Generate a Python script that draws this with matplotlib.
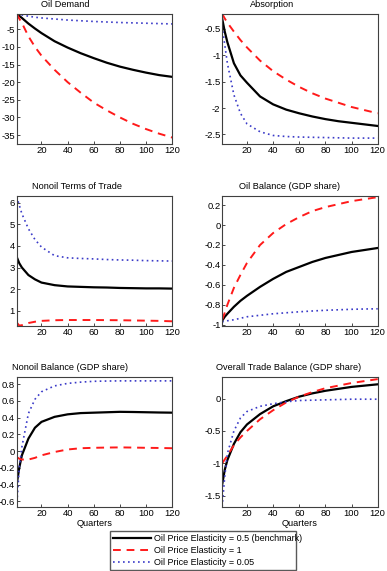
import matplotlib
matplotlib.use("Agg")
import matplotlib.pyplot as plt

plt.rcParams['font.family'] = ['Liberation Sans', 'DejaVu Sans']
plt.rcParams['font.size'] = 6.5
plt.rcParams['axes.unicode_minus'] = False

q = [1, 3, 5, 10, 15, 20, 30, 40, 50, 60, 70, 80, 90, 100, 110, 120]

# Oil Demand
od_bench = [-0.6, -1.2, -1.8, -3.4, -4.8, -6.1, -8.4, -10.2, -11.8, -13.2, -14.5, -15.6, -16.5, -17.3, -18.0, -18.5]
od_one = [-0.6, -2.0, -3.2, -7.0, -10.0, -12.5, -16.5, -20.0, -23.0, -25.8, -28.0, -30.0, -31.8, -33.3, -34.6, -35.7]
od_low = [-0.6, -0.8, -0.95, -1.3, -1.6, -1.8, -2.1, -2.4, -2.6, -2.8, -2.95, -3.1, -3.2, -3.3, -3.4, -3.5]

# Absorption
ab_bench = [-0.3, -0.55, -0.75, -1.15, -1.38, -1.52, -1.78, -1.93, -2.03, -2.1, -2.16, -2.21, -2.25, -2.28, -2.31, -2.34]
ab_one = [-0.21, -0.3, -0.38, -0.55, -0.71, -0.85, -1.1, -1.3, -1.46, -1.6, -1.72, -1.82, -1.9, -1.98, -2.04, -2.1]
ab_low = [-0.45, -0.8, -1.15, -1.75, -2.1, -2.3, -2.45, -2.52, -2.54, -2.55, -2.555, -2.56, -2.565, -2.57, -2.57, -2.57]

# Nonoil Terms of Trade
tt_bench = [3.5, 3.2, 3.0, 2.65, 2.45, 2.3, 2.18, 2.12, 2.1, 2.08, 2.07, 2.05, 2.04, 2.03, 2.03, 2.02]
tt_one = [0.45, 0.3, 0.32, 0.42, 0.48, 0.52, 0.55, 0.56, 0.56, 0.56, 0.555, 0.55, 0.54, 0.53, 0.52, 0.5]
tt_low = [6.3, 5.9, 5.5, 4.8, 4.3, 3.95, 3.55, 3.45, 3.42, 3.4, 3.37, 3.35, 3.34, 3.32, 3.31, 3.3]

# Oil Balance (GDP share)
ob_bench = [-0.96, -0.92, -0.89, -0.82, -0.76, -0.71, -0.62, -0.54, -0.47, -0.42, -0.37, -0.33, -0.3, -0.27, -0.25, -0.23]
ob_one = [-0.95, -0.88, -0.8, -0.63, -0.5, -0.38, -0.2, -0.08, 0.01, 0.08, 0.14, 0.18, 0.21, 0.24, 0.26, 0.28]
ob_low = [-0.97, -0.965, -0.96, -0.95, -0.935, -0.92, -0.905, -0.89, -0.88, -0.87, -0.862, -0.855, -0.85, -0.845, -0.842, -0.84]

# Nonoil Balance (GDP share)
nb_bench = [-0.4, -0.2, -0.05, 0.15, 0.28, 0.35, 0.41, 0.44, 0.455, 0.46, 0.465, 0.47, 0.468, 0.465, 0.462, 0.46]
nb_one = [-0.07, -0.09, -0.1, -0.1, -0.08, -0.05, -0.01, 0.02, 0.035, 0.04, 0.043, 0.045, 0.043, 0.04, 0.038, 0.035]
nb_low = [-0.67, -0.2, 0.05, 0.45, 0.62, 0.71, 0.78, 0.81, 0.825, 0.835, 0.838, 0.84, 0.84, 0.84, 0.84, 0.84]

# Overall Trade Balance (GDP share)
tb_bench = [-1.33, -1.1, -0.95, -0.7, -0.52, -0.4, -0.24, -0.12, -0.04, 0.03, 0.08, 0.12, 0.15, 0.18, 0.2, 0.22]
tb_one = [-1.0, -0.94, -0.88, -0.72, -0.6, -0.5, -0.32, -0.18, -0.06, 0.03, 0.1, 0.16, 0.2, 0.24, 0.27, 0.3]
tb_low = [-1.67, -1.2, -0.85, -0.5, -0.3, -0.2, -0.12, -0.08, -0.05, -0.03, -0.025, -0.02, -0.015, -0.01, -0.01, -0.01]

panels = [
    ("Oil Demand", od_bench, od_one, od_low, (-37.5, -0.6), [-35, -30, -25, -20, -15, -10, -5], None, 0.31),
    ("Absorption", ab_bench, ab_one, ab_low, (-2.68, -0.21), [-2.5, -2, -1.5, -1, -0.5], None, 0.32),
    ("Nonoil Terms of Trade", tt_bench, tt_one, tt_low, (0.28, 6.33), [1, 2, 3, 4, 5, 6], None, 0.39),
    ("Oil Balance (GDP share)", ob_bench, ob_one, ob_low, (-1.013, 0.293), [-1, -0.8, -0.6, -0.4, -0.2, 0, 0.2], None, 0.43),
    ("Nonoil Balance (GDP share)", nb_bench, nb_one, nb_low, (-0.668, 0.888), [-0.6, -0.4, -0.2, 0, 0.2, 0.4, 0.6, 0.8], "Quarters", 0.34),
    ("Overall Trade Balance (GDP share)", tb_bench, tb_one, tb_low, (-1.675, 0.335), [-1.5, -1, -0.5, 0], "Quarters", 0.43),
]

labels = ["Oil Price Elasticity = 0.5 (benchmark)", "Oil Price Elasticity = 1", "Oil Price Elasticity = 0.05"]

fig = plt.figure(figsize=(3.87, 5.71), dpi=100)
lefts = [0.043, 0.574]
bottoms = [0.748, 0.429, 0.112]

for i, (title, b, o, l, ylim, yt, xl, tx) in enumerate(panels):
    ax = fig.add_axes([lefts[i % 2], bottoms[i // 2], 0.402, 0.228])
    h1, = ax.plot(q, b, color='black', lw=1.6, ls='-')
    h2, = ax.plot(q, o, color='#ff1a1a', lw=1.4, ls=(0, (4, 3)))
    h3, = ax.plot(q, l, color='#3a3ac8', lw=1.2, ls=(0, (1, 2)))
    ax.set_xlim(1, 120)
    ax.set_ylim(*ylim)
    ax.set_xticks([20, 40, 60, 80, 100, 120])
    ax.set_yticks(yt)
    ax.set_yticklabels(["%g" % v for v in yt])
    ax.tick_params(direction='in', length=2, width=0.5, pad=1.2, labelsize=6.8)
    for s in ax.spines.values():
        s.set_color('#404040')
        s.set_linewidth(0.8)
    ax.text(tx, 1.07, title, transform=ax.transAxes, ha='center', va='center', fontsize=6.6)
    if xl:
        ax.set_xlabel(xl, fontsize=6.6, labelpad=1)

fig.legend([h1, h2, h3], labels, loc='lower left',
           bbox_to_anchor=(110 / 387, 1 - 570 / 571, 186 / 387, 41 / 571),
           mode='expand', fontsize=6.5, frameon=True, fancybox=False,
           edgecolor='#303030', handlelength=4.2, handletextpad=0.4,
           borderpad=0.3, labelspacing=0.35, borderaxespad=0)

fig.savefig("out.png", dpi=100)
